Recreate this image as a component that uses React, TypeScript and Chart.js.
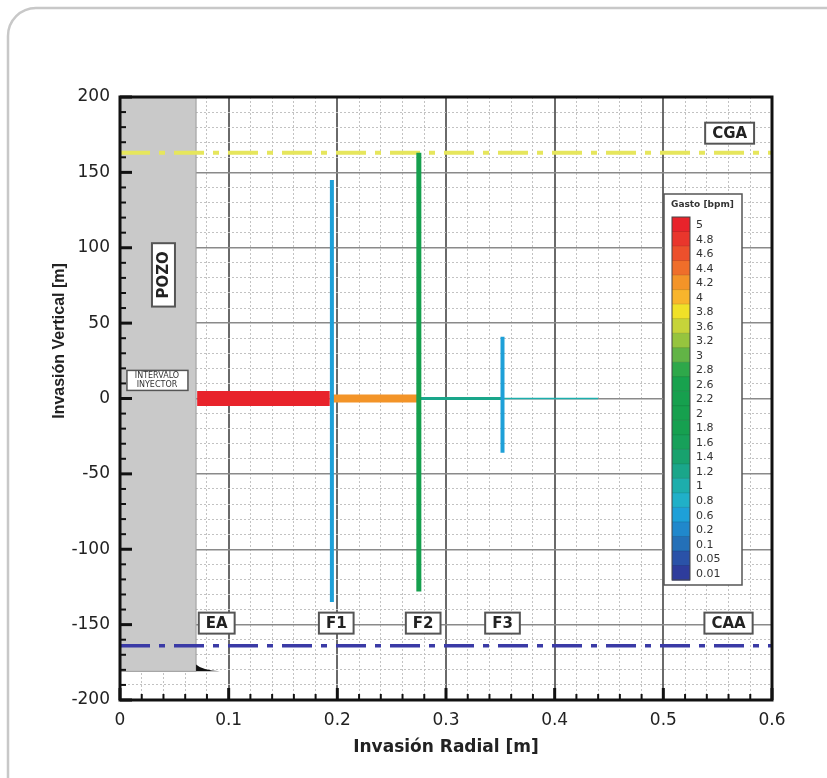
import React, { useEffect, useRef } from 'react';
import { Chart, registerables } from 'chart.js';

Chart.register(...registerables);

// ---- axes ----
const X_MIN = 0;
const X_MAX = 0.6;
const Y_MIN = -200;
const Y_MAX = 200;
const X_STEP = 0.02;
const Y_STEP = 10;
const X_MAJOR = 0.1;
const Y_MAJOR = 50;

// ---- colour scale (Gasto [bpm]) ----
const legendValues = [5, 4.8, 4.6, 4.4, 4.2, 4, 3.8, 3.6, 3.2, 3, 2.8, 2.6, 2.2, 2, 1.8, 1.6, 1.4, 1.2, 1, 0.8, 0.6, 0.2, 0.1, 0.05, 0.01];
const legendColors = ['#e8232b', '#e9362c', '#ec502c', '#ef6e2a', '#f39428', '#f8b52c', '#f0e128', '#c6d43a', '#96c43e', '#62b446', '#2ea84a', '#18a24e', '#16a04e', '#16a04e', '#16a050', '#17a05a', '#18a26e', '#1aa68a', '#1daeac', '#20b0c8', '#1ea0d8', '#2088cc', '#2470b8', '#2a52a8', '#2e3c9c'];

// ---- radial (horizontal) invasion segments ----
const radialStart = [0.071, 0.193, 0.275, 0.352];
const radialEnd = [0.193, 0.275, 0.352, 0.44];
const radialRate = [5, 4.2, 1.2, 1];

// ---- fractures (vertical invasion) ----
const fractureNames = ['F1', 'F2', 'F3'];
const fractureX = [0.195, 0.275, 0.352];
const fractureTop = [145, 163, 41];
const fractureBottom = [-135, -128, -36];
const fractureRate = [0.6, 2.2, 0.6];

// ---- fluid contacts ----
const contactNames = ['CGA', 'CAA'];
const contactDepth = [163, -164];

// ---- wellbore ----
const wellRadius = 0.07;
const wellBottom = -181;

// ---- boxed labels ----
const markerText = ['EA', 'F1', 'F2', 'F3', 'CAA', 'CGA'];
const markerX = [0.089, 0.199, 0.279, 0.352, 0.56, 0.561];
const markerY = [-149, -149, -149, -149, -149, 176];

// styles (kept apart from data)
const radialWidths = [15, 8, 3, 1.5];
const fractureWidths = [4, 5, 4];
const contactColors = ['#e6e65c', '#3a3aa6'];
const contactWidths = [4, 3.5];

const rateColor = (r: number) => legendColors[legendValues.indexOf(r)] || '#888';
const isMajor = (v: number, step: number) => Math.abs(v / step - Math.round(v / step)) < 1e-6;

export default function App() {
  const ref = useRef<HTMLCanvasElement>(null);

  useEffect(() => {
    const canvas = ref.current!;
    const datasets: any[] = [];

    fractureX.forEach((x, i) => {
      datasets.push({
        label: fractureNames[i],
        data: [{ x, y: fractureTop[i] }, { x, y: fractureBottom[i] }],
        borderColor: rateColor(fractureRate[i]),
        borderWidth: fractureWidths[i],
        showLine: true,
        pointRadius: 0,
      });
    });
    radialStart.forEach((x0, i) => {
      datasets.push({
        label: 'radial' + i,
        data: [{ x: x0, y: 0 }, { x: radialEnd[i], y: 0 }],
        borderColor: rateColor(radialRate[i]),
        borderWidth: radialWidths[i],
        showLine: true,
        pointRadius: 0,
      });
    });
    contactDepth.forEach((d, i) => {
      datasets.push({
        label: contactNames[i],
        data: [{ x: X_MIN, y: d }, { x: X_MAX, y: d }],
        borderColor: contactColors[i],
        borderWidth: contactWidths[i],
        borderDash: [30, 9, 6, 9],
        showLine: true,
        pointRadius: 0,
      });
    });

    const boxText = (ctx: CanvasRenderingContext2D, text: string, cx: number, cy: number, font: string, padX: number, h: number) => {
      ctx.font = font;
      const w = ctx.measureText(text).width + padX * 2;
      ctx.fillStyle = '#ffffff';
      ctx.fillRect(cx - w / 2, cy - h / 2, w, h);
      ctx.strokeStyle = '#555';
      ctx.lineWidth = 2;
      ctx.strokeRect(cx - w / 2, cy - h / 2, w, h);
      ctx.fillStyle = '#222';
      ctx.textAlign = 'center';
      ctx.textBaseline = 'middle';
      ctx.fillText(text, cx, cy + 1);
    };

    const decor = {
      id: 'decor',
      beforeDraw(chart: any) {
        const ctx = chart.ctx as CanvasRenderingContext2D;
        ctx.save();
        ctx.strokeStyle = '#c8c8c8';
        ctx.lineWidth = 2.5;
        const r = 28;
        ctx.beginPath();
        ctx.moveTo(8, 790);
        ctx.lineTo(8, 8 + r);
        ctx.arcTo(8, 8, 8 + r, 8, r);
        ctx.lineTo(840, 8);
        ctx.stroke();
        ctx.restore();
      },
      beforeDatasetsDraw(chart: any) {
        const ctx = chart.ctx as CanvasRenderingContext2D;
        const xs = chart.scales.x;
        const ys = chart.scales.y;
        ctx.save();
        // wellbore
        const x0 = xs.getPixelForValue(X_MIN);
        const x1 = xs.getPixelForValue(wellRadius);
        const yt = ys.getPixelForValue(Y_MAX);
        const yb = ys.getPixelForValue(wellBottom);
        ctx.fillStyle = '#c9c9c9';
        ctx.fillRect(x0, yt, x1 - x0, yb - yt);
        ctx.strokeStyle = '#9a9a9a';
        ctx.lineWidth = 1;
        ctx.beginPath();
        ctx.moveTo(x1, yt);
        ctx.lineTo(x1, yb);
        ctx.lineTo(x0, yb);
        ctx.stroke();
        // shoe marker
        const ty0 = ys.getPixelForValue(wellBottom + 4.5);
        const tx1 = xs.getPixelForValue(wellRadius + 0.022);
        ctx.fillStyle = '#111';
        ctx.beginPath();
        ctx.moveTo(x1, yb);
        ctx.lineTo(x1, ty0);
        ctx.quadraticCurveTo(x1 + 6, yb - 1, tx1, yb);
        ctx.closePath();
        ctx.fill();
        ctx.restore();
      },
      afterDatasetsDraw(chart: any) {
        const ctx = chart.ctx as CanvasRenderingContext2D;
        const xs = chart.scales.x;
        const ys = chart.scales.y;
        const a = chart.chartArea;
        ctx.save();
        // inward ticks
        ctx.strokeStyle = '#111';
        for (let v = Y_MIN; v <= Y_MAX + 1e-9; v += Y_STEP) {
          const major = isMajor(v, Y_MAJOR);
          const y = ys.getPixelForValue(v);
          ctx.lineWidth = major ? 3 : 2;
          ctx.beginPath();
          ctx.moveTo(a.left, y);
          ctx.lineTo(a.left + (major ? 12 : 6), y);
          ctx.stroke();
        }
        for (let i = 0; i <= Math.round((X_MAX - X_MIN) / X_STEP); i++) {
          const v = X_MIN + i * X_STEP;
          const major = isMajor(v, X_MAJOR);
          const x = xs.getPixelForValue(v);
          ctx.lineWidth = major ? 3 : 2;
          ctx.beginPath();
          ctx.moveTo(x, a.bottom);
          ctx.lineTo(x, a.bottom - (major ? 12 : 6));
          ctx.stroke();
        }
        // frame
        ctx.lineWidth = 3;
        ctx.strokeStyle = '#111';
        ctx.strokeRect(a.left, a.top, a.right - a.left, a.bottom - a.top);

        // boxed markers
        markerText.forEach((t, i) => {
          boxText(ctx, t, xs.getPixelForValue(markerX[i]), ys.getPixelForValue(markerY[i]), 'bold 15px "DejaVu Sans"', 7, 21);
        });

        // POZO
        const pcx = xs.getPixelForValue(0.04);
        const pcy = ys.getPixelForValue(82);
        ctx.save();
        ctx.translate(pcx, pcy);
        ctx.rotate(-Math.PI / 2);
        boxText(ctx, 'POZO', 0, 0, 'bold 15px "DejaVu Sans"', 8, 23);
        ctx.restore();

        // INTERVALO INYECTOR
        const icx = xs.getPixelForValue(0.034);
        const icy = ys.getPixelForValue(12);
        ctx.fillStyle = '#ffffff';
        ctx.fillRect(icx - 30, icy - 10, 61, 20);
        ctx.strokeStyle = '#555';
        ctx.lineWidth = 1.5;
        ctx.strokeRect(icx - 30, icy - 10, 61, 20);
        ctx.fillStyle = '#333';
        ctx.font = '8px "DejaVu Sans"';
        ctx.textAlign = 'center';
        ctx.textBaseline = 'middle';
        ctx.fillText('INTERVALO', icx, icy - 4);
        ctx.fillText('INYECTOR', icx, icy + 5);

        // colour legend
        const lx = a.right - 108;
        const ly = a.top + 97;
        const lw = 78;
        const lh = 391;
        ctx.fillStyle = '#ffffff';
        ctx.fillRect(lx, ly, lw, lh);
        ctx.strokeStyle = '#555';
        ctx.lineWidth = 1.5;
        ctx.strokeRect(lx, ly, lw, lh);
        ctx.fillStyle = '#333';
        ctx.font = 'bold 9px "DejaVu Sans"';
        ctx.textAlign = 'left';
        ctx.textBaseline = 'middle';
        ctx.fillText('Gasto [bpm]', lx + 7, ly + 11);
        const bx = lx + 8;
        const by = ly + 23;
        const bw = 18;
        const sh = 363 / legendValues.length;
        legendValues.forEach((v, i) => {
          ctx.fillStyle = legendColors[i];
          ctx.fillRect(bx, by + i * sh, bw, sh + 0.5);
        });
        ctx.strokeStyle = 'rgba(0,0,0,0.12)';
        ctx.lineWidth = 1;
        legendValues.forEach((v, i) => {
          if (i === 0) return;
          ctx.beginPath();
          ctx.moveTo(bx, by + i * sh);
          ctx.lineTo(bx + bw, by + i * sh);
          ctx.stroke();
        });
        ctx.strokeStyle = '#444';
        ctx.strokeRect(bx, by, bw, sh * legendValues.length);
        ctx.fillStyle = '#333';
        ctx.font = '11px "DejaVu Sans"';
        legendValues.forEach((v, i) => {
          ctx.fillText(String(v), bx + bw + 6, by + i * sh + sh / 2 + 1);
        });

        // axis titles
        ctx.fillStyle = '#222';
        ctx.font = 'bold 17px "DejaVu Sans"';
        ctx.textAlign = 'center';
        ctx.textBaseline = 'middle';
        ctx.fillText('Invasión Radial [m]', (a.left + a.right) / 2, a.bottom + 48);
        ctx.save();
        ctx.translate(60, 341);
        ctx.rotate(-Math.PI / 2);
        ctx.font = 'bold 16px "Liberation Sans"';
        ctx.fillText('Invasión Vertical [m]', 0, 0);
        ctx.restore();

        ctx.restore();
      },
    };

    const chart = new Chart(canvas, {
      type: 'scatter',
      data: { datasets },
      options: {
        animation: false,
        responsive: false,
        maintainAspectRatio: false,
        devicePixelRatio: 1,
        layout: { padding: { left: 0, top: 97, right: 55, bottom: 0 } },
        plugins: { legend: { display: false }, tooltip: { enabled: false } },
        scales: {
          x: {
            type: 'linear',
            position: 'bottom',
            min: X_MIN,
            max: X_MAX,
            afterFit: (s: any) => { s.height = 78; },
            border: { display: false, dash: (c: any) => (c.tick && isMajor(c.tick.value, X_MAJOR) ? [] : [2, 2]) },
            grid: {
              drawTicks: false,
              color: (c: any) => (c.tick && isMajor(c.tick.value, X_MAJOR) ? '#6a6a6a' : '#c2c2c2'),
              lineWidth: (c: any) => (c.tick && isMajor(c.tick.value, X_MAJOR) ? 2 : 1),
            },
            ticks: {
              stepSize: X_STEP,
              autoSkip: false,
              maxRotation: 0,
              padding: 10,
              color: '#222',
              font: { family: 'DejaVu Sans', size: 17 },
              callback: (v: any) => (isMajor(Number(v), X_MAJOR) ? String(Math.round(Number(v) * 10) / 10) : ''),
            },
          },
          y: {
            type: 'linear',
            position: 'left',
            min: Y_MIN,
            max: Y_MAX,
            afterFit: (s: any) => { s.width = 120; },
            border: { display: false, dash: (c: any) => (c.tick && isMajor(c.tick.value, Y_MAJOR) ? [] : [2, 2]) },
            grid: {
              drawTicks: false,
              color: (c: any) => (c.tick && isMajor(c.tick.value, Y_MAJOR) ? '#8a8a8a' : '#c2c2c2'),
              lineWidth: (c: any) => (c.tick && isMajor(c.tick.value, Y_MAJOR) ? 1.5 : 1),
            },
            ticks: {
              stepSize: Y_STEP,
              autoSkip: false,
              padding: 10,
              color: '#222',
              font: { family: 'DejaVu Sans', size: 17 },
              callback: (v: any) => (isMajor(Number(v), Y_MAJOR) ? String(Math.round(Number(v))) : ''),
            },
          },
        },
      },
      plugins: [decor],
    } as any);

    return () => chart.destroy();
  }, []);

  return (
    <div style={{ position: 'absolute', left: 0, top: 0, width: 827, height: 778 }}>
      <canvas ref={ref} width={827} height={778} style={{ display: 'block', width: 827, height: 778 }} />
    </div>
  );
}
